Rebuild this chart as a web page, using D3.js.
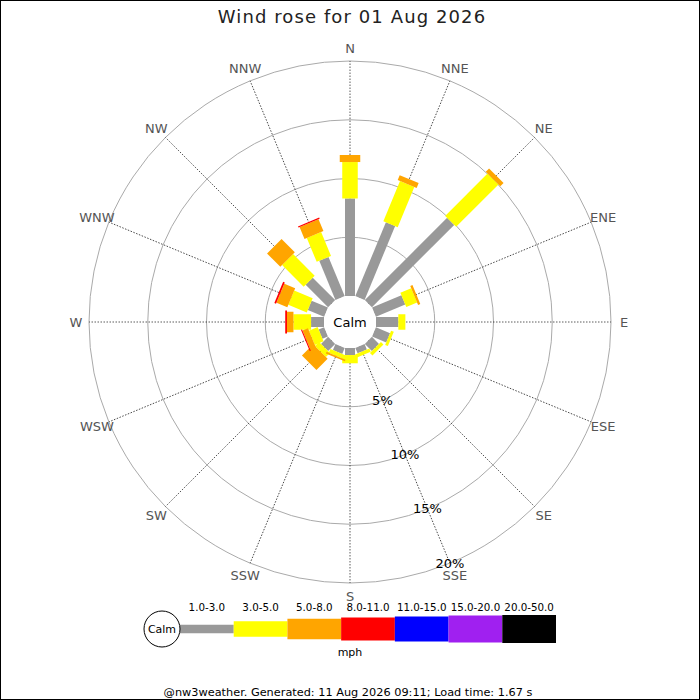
<!DOCTYPE html>
<html lang="en">
<head>
    <meta charset="UTF-8">
    <title>Wind rose</title>
    <script src="https://d3js.org/d3.v7.min.js"></script>
    <style>
        body { margin: 0; background: #fff; }
        svg { display: block; font-family: "DejaVu Sans", sans-serif; }
    </style>
</head>
<body>
    <svg id="chart" width="700" height="700"></svg>

    <script>
        // compass points, clockwise from north
        const directions = ["N", "NNE", "NE", "ENE", "E", "ESE", "SE", "SSE",
                            "S", "SSW", "SW", "WSW", "W", "WNW", "NW", "NNW"];
        const speedBins = ["1.0-3.0", "3.0-5.0", "5.0-8.0", "8.0-11.0", "11.0-15.0", "15.0-20.0", "20.0-50.0"];
        const binColours = ["#999999", "#ffff00", "#ffa500", "#ff0000", "#0000ff", "#a020f0", "#000000"];
        const ringTicks = [5, 10, 15, 20];

        // % of time per direction, one array per speed bin
        const freq1to3   = [8.3, 6.8, 9.9, 2.7, 1.9, 1.3, 0.85, 0.5, 0.6, 0.55, 0.85, 0.5, 1.1, 1.5, 2.7, 3.6];
        const freq3to5   = [3.1, 3.7, 5.1, 1.0, 0.6, 0.25, 0.3, 0.3, 0.7, 0.35, 0.5, 0.8, 1.5, 1.7, 2.6, 2.2];
        const freq5to8   = [0.6, 0.45, 0.4, 0.2, 0, 0, 0, 0, 0, 0.15, 1.35, 0.5, 0.55, 1.0, 1.6, 1.1];
        const freq8to11  = [0, 0, 0, 0, 0, 0, 0, 0, 0, 0, 0, 0.1, 0.15, 0.15, 0, 0.1];
        const freq11to15 = [0, 0, 0, 0, 0, 0, 0, 0, 0, 0, 0, 0, 0, 0, 0, 0];
        const freq15to20 = [0, 0, 0, 0, 0, 0, 0, 0, 0, 0, 0, 0, 0, 0, 0, 0];
        const freq20to50 = [0, 0, 0, 0, 0, 0, 0, 0, 0, 0, 0, 0, 0, 0, 0, 0];
        const allBins = [freq1to3, freq3to5, freq5to8, freq8to11, freq11to15, freq15to20, freq20to50];

        const svg = d3.select("#chart");
        const cx = 350, cy = 322;
        const calmR = 26;
        const barWidths = [10, 15.5, 20.5, 23, 25, 27, 28];

        const angle = d3.scaleLinear().domain([0, directions.length]).range([0, 360]);
        const r = d3.scaleLinear().domain([0, 20]).range([calmR, 261]);

        const rows = directions.map((dir, i) => {
            const row = { dir: dir };
            speedBins.forEach((b, j) => row[b] = allBins[j][i]);
            return row;
        });
        const stacked = d3.stack().keys(speedBins)(rows);

        // title
        svg.append("text")
            .attr("x", 352).attr("y", 23)
            .attr("text-anchor", "middle")
            .style("font-size", "18px")
            .style("letter-spacing", "1.1px")
            .style("fill", "#222")
            .text("Wind rose for 01 Aug 2026");

        const g = svg.append("g").attr("transform", `translate(${cx},${cy})`);

        // rings
        g.selectAll(".ring").data(ringTicks).enter()
            .append("circle")
            .attr("r", d => r(d))
            .attr("fill", "none")
            .attr("stroke", "#aaa")
            .attr("stroke-width", 1);

        // spokes
        g.selectAll(".spoke").data(directions).enter()
            .append("line")
            .attr("transform", (d, i) => `rotate(${angle(i)})`)
            .attr("y1", -calmR).attr("y2", -r(20))
            .attr("stroke", "#333")
            .attr("stroke-width", 0.8)
            .attr("stroke-dasharray", "1.5,1.5");

        // bars, one rectangle per speed bin
        stacked.forEach((layer, j) => {
            g.selectAll(".bin" + j).data(layer).enter()
                .filter(d => d[1] - d[0] > 0)
                .append("rect")
                .attr("transform", d => `rotate(${angle(directions.indexOf(d.data.dir))})`)
                .attr("x", -barWidths[j] / 2)
                .attr("width", barWidths[j])
                .attr("y", d => -r(d[1]))
                .attr("height", d => r(d[1]) - r(d[0]))
                .attr("fill", binColours[j]);
        });

        // calm circle
        g.append("circle").attr("r", calmR - 0.5).attr("fill", "#fff");
        g.append("text")
            .attr("text-anchor", "middle").attr("dy", "0.35em")
            .style("font-size", "13px")
            .text("Calm");

        // direction labels
        g.selectAll(".dirlabel").data(directions).enter()
            .append("text")
            .attr("x", (d, i) => 274 * Math.sin(angle(i) * Math.PI / 180))
            .attr("y", (d, i) => -274 * Math.cos(angle(i) * Math.PI / 180))
            .attr("dy", "0.35em")
            .attr("text-anchor", "middle")
            .style("font-size", "13px")
            .style("fill", "#555")
            .text(d => d);

        // percentage labels along SSE
        const lblAng = angle(7) * Math.PI / 180;
        g.selectAll(".pct").data(ringTicks).enter()
            .append("text")
            .attr("x", d => r(d) * Math.sin(lblAng))
            .attr("y", d => -r(d) * Math.cos(lblAng))
            .attr("dy", "0.35em")
            .attr("text-anchor", "middle")
            .style("font-size", "13px")
            .style("fill", "#000")
            .text(d => d + "%");

        // legend
        const legX = d3.scaleBand().domain(speedBins).range([180, 556]);
        const legY = 629;
        const leg = svg.append("g");
        leg.selectAll("rect").data(speedBins).enter()
            .append("rect")
            .attr("x", d => legX(d))
            .attr("width", legX.bandwidth())
            .attr("y", (d, i) => legY - (i === 0 ? 8.5 : barWidths[i]) / 2)
            .attr("height", (d, i) => i === 0 ? 8.5 : barWidths[i])
            .attr("fill", (d, i) => binColours[i]);
        leg.selectAll(".leglbl").data(speedBins).enter()
            .append("text")
            .attr("x", d => legX(d) + legX.bandwidth() / 2)
            .attr("y", 611)
            .attr("text-anchor", "middle")
            .style("font-size", "10.3px")
            .text(d => d);
        leg.append("circle")
            .attr("cx", 162).attr("cy", legY).attr("r", 18)
            .attr("fill", "#fff").attr("stroke", "#000").attr("stroke-width", 1);
        leg.append("text")
            .attr("x", 162).attr("y", legY).attr("dy", "0.35em")
            .attr("text-anchor", "middle")
            .style("font-size", "11px")
            .text("Calm");
        leg.append("text")
            .attr("x", 350).attr("y", 656)
            .attr("text-anchor", "middle")
            .style("font-size", "11px")
            .text("mph");

        // footer
        svg.append("text")
            .attr("x", 348).attr("y", 696)
            .attr("text-anchor", "middle")
            .style("font-size", "11.3px")
            .text("@nw3weather. Generated: 11 Aug 2026 09:11; Load time: 1.67 s");

        // frame
        svg.append("rect")
            .attr("x", 0.5).attr("y", 0.5).attr("width", 699).attr("height", 699)
            .attr("fill", "none").attr("stroke", "#000");
    </script>
</body>
</html>
